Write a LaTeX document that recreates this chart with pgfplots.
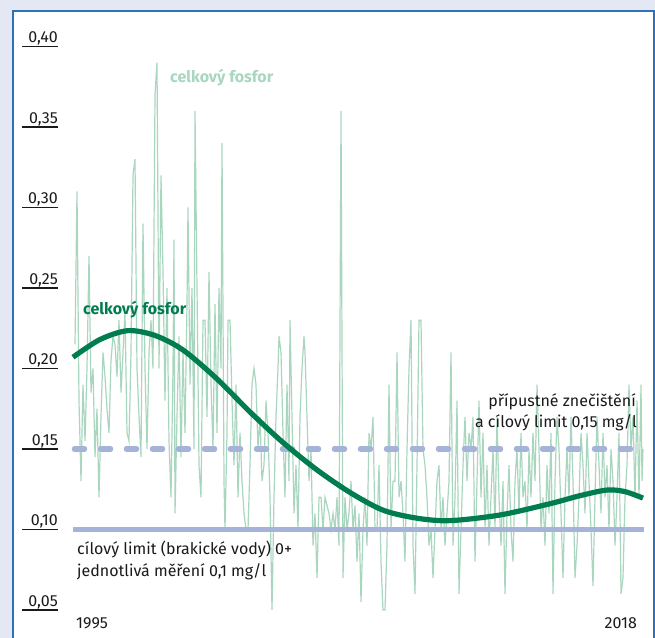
\documentclass[border=0pt]{standalone}
\usepackage{pgfplots}
\pgfplotsset{compat=1.18}
\usepackage{pgfplotstable}
\usepackage{fontspec}
\setmainfont{Fira Sans}
\definecolor{bgl}{HTML}{E4E8F4}
\definecolor{frame}{HTML}{2B72B8}
\definecolor{noise}{HTML}{A9D6BF}
\definecolor{dgreen}{HTML}{007D4F}
\definecolor{limit}{HTML}{A4B3D7}
\definecolor{txt}{HTML}{1A1A1A}

\pgfplotstableread{
d v
0 0.215
2 0.31
4 0.18
6 0.13
8 0.19
10 0.155
12 0.20
14 0.27
16 0.185
18 0.20
20 0.145
22 0.175
24 0.12
26 0.17
28 0.21
30 0.195
32 0.175
34 0.16
36 0.205
38 0.22
40 0.215
42 0.195
44 0.23
46 0.185
48 0.21
50 0.235
52 0.16
54 0.155
56 0.21
58 0.32
60 0.33
62 0.20
64 0.17
66 0.145
68 0.29
70 0.20
72 0.15
74 0.21
76 0.23
78 0.20
80 0.37
82 0.39
84 0.20
86 0.32
88 0.26
90 0.18
92 0.25
94 0.155
96 0.12
98 0.20
99 0.28
100 0.11
102 0.17
104 0.22
106 0.145
108 0.21
110 0.16
112 0.24
113 0.30
115 0.19
117 0.25
119 0.15
120 0.36
122 0.25
124 0.14
126 0.12
128 0.23
130 0.23
132 0.17
134 0.26
136 0.19
138 0.15
140 0.24
142 0.16
144 0.25
146 0.20
147 0.34
149 0.13
150 0.10
152 0.16
153 0.23
155 0.23
157 0.18
159 0.14
161 0.19
163 0.12
165 0.16
167 0.13
169 0.11
171 0.10
173 0.10
175 0.14
177 0.19
179 0.20
181 0.19
183 0.15
185 0.17
187 0.13
189 0.14
191 0.18
193 0.16
195 0.12
197 0.05
199 0.12
201 0.17
203 0.20
204 0.22
206 0.21
208 0.16
210 0.12
212 0.19
214 0.13
215 0.23
217 0.17
219 0.11
221 0.14
223 0.10
225 0.17
227 0.20
229 0.22
230 0.21
232 0.17
234 0.13
236 0.15
238 0.09
240 0.11
242 0.07
244 0.12
246 0.12
248 0.10
250 0.12
252 0.115
254 0.11
256 0.10
258 0.11
260 0.10
262 0.12
264 0.09
266 0.36
268 0.07
270 0.12
272 0.10
274 0.11
276 0.13
278 0.10
280 0.115
282 0.08
284 0.11
286 0.055
288 0.10
290 0.12
292 0.09
294 0.16
296 0.15
298 0.17
300 0.10
302 0.10
304 0.14
306 0.08
308 0.05
310 0.05
312 0.09
314 0.19
316 0.10
318 0.13
320 0.13
322 0.21
324 0.12
326 0.13
328 0.11
330 0.08
332 0.15
334 0.20
336 0.23
338 0.09
340 0.06
342 0.14
344 0.23
346 0.23
348 0.15
350 0.14
352 0.12
354 0.09
356 0.10
358 0.07
360 0.10
362 0.13
364 0.14
366 0.10
368 0.12
370 0.09
372 0.11
374 0.13
376 0.21
378 0.09
380 0.12
382 0.18
384 0.06
386 0.10
388 0.14
390 0.17
392 0.13
394 0.16
396 0.15
398 0.17
400 0.08
402 0.13
404 0.18
406 0.12
408 0.16
410 0.10
412 0.14
414 0.09
416 0.12
418 0.15
420 0.10
422 0.17
424 0.12
426 0.09
428 0.13
430 0.06
432 0.11
434 0.14
436 0.10
438 0.08
440 0.13
442 0.15
444 0.11
446 0.16
448 0.12
450 0.13
452 0.10
454 0.15
456 0.12
458 0.16
460 0.13
462 0.19
464 0.15
466 0.10
468 0.12
470 0.09
472 0.14
474 0.11
476 0.16
478 0.06
480 0.13
482 0.17
484 0.15
486 0.11
488 0.07
490 0.12
492 0.15
494 0.12
496 0.17
498 0.13
500 0.07
502 0.09
504 0.12
506 0.16
508 0.14
510 0.11
512 0.16
514 0.13
516 0.10
518 0.065
520 0.12
522 0.17
524 0.14
526 0.11
528 0.16
530 0.12
532 0.14
534 0.10
536 0.15
538 0.13
540 0.09
542 0.12
544 0.16
546 0.06
548 0.07
550 0.12
552 0.14
554 0.19
556 0.15
558 0.17
560 0.12
562 0.18
564 0.12
566 0.19
567 0.13
568 0.15
}\noisedata

\begin{document}
\fontsize{16bp}{21.5bp}\selectfont%
\begin{tikzpicture}[x=1bp,y=1bp]
\useasboundingbox (0,0) rectangle (655,638);
\fill[bgl] (0,0) rectangle (655,638);
\fill[white] (13,-3) rectangle (654,627);
\draw[frame, line width=1.6bp] (13,-3) -- (13,627) -- (654,627) -- (654,-3);
\begin{axis}[
  at={(73,7.4)}, anchor=south west,
  scale only axis, width=570bp, height=595.7bp,
  xmin=-2, xmax=568, ymin=0.04, ymax=0.41,
  axis line style={draw=none},
  xtick=\empty,
  ytick={0.05,0.10,0.15,0.20,0.25,0.30,0.35,0.40},
  major tick length=0pt,
  yticklabel={\raisebox{3.5bp}{\pgfmathprintnumber[fixed,fixed zerofill,precision=2,use comma,assume math mode=true]{\tick}}\llap{\rule[-0.7bp]{36bp}{1.4bp}}},
  yticklabel style={anchor=base east, inner sep=0pt, xshift=-15bp, text=txt},
  clip=false,
]
\addplot[noise, line width=1.2bp] table[x=d, y=v] {\noisedata};
\addplot[limit, line width=5.5bp, line cap=round, dash pattern=on 10bp off 16bp] coordinates {(-0.5,0.15) (568,0.15)};
\addplot[limit, line width=5bp] coordinates {(-2,0.10) (569,0.10)};
\addplot[dgreen, line width=5.2bp, smooth] coordinates {
(-2,0.207) (25,0.218) (53,0.2235) (80,0.2205) (108,0.2115) (142,0.1935) (175,0.173)
(208,0.154) (242,0.137) (275,0.123) (308,0.112) (342,0.107) (375,0.1055)
(425,0.109) (475,0.116) (505,0.121) (532,0.1245) (550,0.1235) (568,0.1195)};
\end{axis}
\begin{scope}[every node/.style={inner sep=0pt, text=txt}]
\node[anchor=base east] at (636,231) {přípustné znečištění};
\node[anchor=base east] at (637,210) {a cílový limit 0,15 mg/l};
\node[anchor=base west] at (77,83) {cílový limit (brakické vody) 0+};
\node[anchor=base west] at (77,61) {jednotlivá měření 0,1 mg/l};
\node[anchor=base west] at (76,9) {1995};
\node[anchor=base east] at (637,9) {2018};
\node[anchor=base west, font=\bfseries, text=noise] at (170,555) {celkový fosfor};
\node[anchor=base west, font=\bfseries, text=dgreen] at (83,323) {celkový fosfor};
\end{scope}
\end{tikzpicture}
\end{document}
